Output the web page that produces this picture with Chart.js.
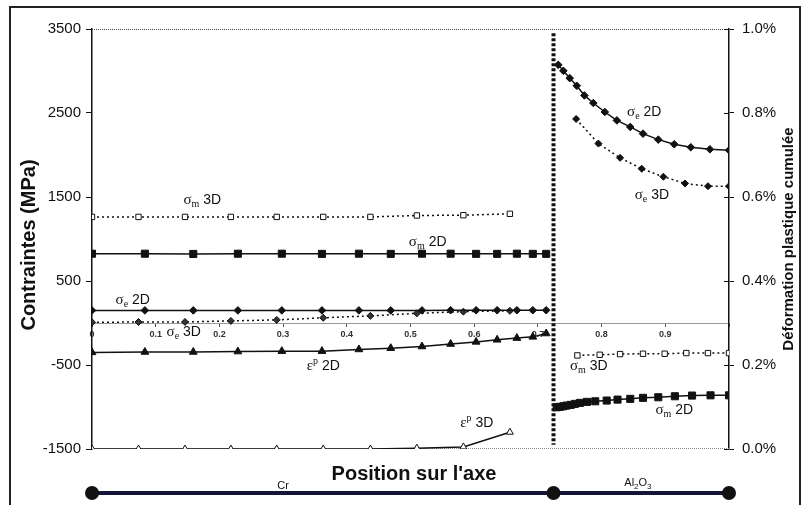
<!DOCTYPE html>
<html>
<head>
<meta charset="utf-8">
<script src="https://cdn.jsdelivr.net/npm/chart.js@4.4.1/dist/chart.umd.min.js"></script>
<style>
  html, body { margin: 0; padding: 0; background: #fff; }
  canvas { display: block; }
</style>
</head>
<body>
<canvas id="c" width="807" height="505"></canvas>
<script>
// ---------- Data ----------
// Cr side (x = normalised position along the axis)
const crX2D = [0, 0.083, 0.159, 0.229, 0.298, 0.361, 0.419, 0.469, 0.518, 0.563, 0.603, 0.636, 0.667, 0.692, 0.713];
const crX3D = [0, 0.073, 0.146, 0.218, 0.290, 0.363, 0.437, 0.510, 0.583, 0.656];

const sigmaM2D_Cr = [825, 825, 822, 825, 825, 823, 825, 823, 825, 825, 823, 823, 825, 823, 823];
const sigmaE2D_Cr = [150, 150, 150, 150, 150, 150, 150, 150, 150, 152, 152, 152, 152, 152, 152];
const sigmaM3D_Cr = [1263, 1263, 1263, 1263, 1263, 1263, 1263, 1280, 1283, 1300];
const sigmaE3D_Cr = [8, 12, 12, 25, 37, 62, 85, 115, 135, 145];
const epsP2D_Cr   = [0.230, 0.231, 0.231, 0.232, 0.233, 0.233, 0.237, 0.240, 0.244, 0.250, 0.255, 0.260, 0.264, 0.267, 0.275];
const epsP3D_Cr   = [0, 0, 0, 0, 0, 0, 0, 0.002, 0.005, 0.040];

// Al2O3 side
const alXsigE2D = [0.732, 0.740, 0.750, 0.761, 0.773, 0.787, 0.805, 0.824, 0.845, 0.865, 0.889, 0.914, 0.940, 0.970, 1.0];
const sigmaE2D_Al = [3073, 3002, 2915, 2824, 2709, 2619, 2512, 2412, 2334, 2254, 2183, 2128, 2092, 2068, 2056];
const alXsigE3D = [0.760, 0.795, 0.829, 0.863, 0.897, 0.931, 0.967, 1.0];
const sigmaE3D_Al = [2429, 2136, 1966, 1836, 1741, 1661, 1629, 1629];
const alXsigM3D = [0.762, 0.797, 0.829, 0.865, 0.899, 0.933, 0.967, 1.0];
const sigmaM3D_Al = [-386, -378, -370, -366, -366, -358, -358, -358];
const alXsigM2D = [0.7295, 0.7347, 0.740, 0.745, 0.7515, 0.758, 0.766, 0.777, 0.790, 0.808, 0.825, 0.845, 0.865, 0.889, 0.915, 0.942, 0.971, 1.0];
const sigmaM2D_Al = [-1003, -998, -991, -983, -975, -963, -951, -939, -932, -923, -912, -903, -891, -884, -872, -864, -861, -861];

// Interface Cr / Al2O3
const interfaceX = 0.7245;
const interfaceY = [3450, -1450];

// Axis ranges / ticks
const stressRange = [-1500, 3500];
const stressStep = 1000;
const strainRange = [0, 1.0];   // percent
const strainStep = 0.2;
const posRange = [0, 1];
const posStep = 0.1;

// Series labels: [x (position), y (MPa), symbol, script, isSuperscript, suffix]
const seriesLabels = [
  [0.173, 1476, 'σ', 'm', false, '3D'],
  [0.527, 976, 'σ', 'm', false, '2D'],
  [0.064, 286, 'σ', 'e', false, '2D'],
  [0.144, -95, 'σ', 'e', false, '3D'],
  [0.363, -500, 'ε', 'p', true, '2D'],
  [0.604, -1179, 'ε', 'p', true, '3D'],
  [0.867, 2524, 'σ', 'e', false, '2D'],
  [0.879, 1536, 'σ', 'e', false, '3D'],
  [0.780, -500, 'σ', 'm', false, '3D'],
  [0.914, -1024, 'σ', 'm', false, '2D']
];

// Material bar: [start, end] positions and labels
const materialBounds = [0, interfaceX, 1];
const materialLabels = ['Cr', 'Al2O3'];

// ---------- helpers ----------
const SANS = '"Liberation Sans", Arial, sans-serif';
const SERIF = '"Liberation Serif", "Times New Roman", serif';
const pts = (xs, ys) => xs.map((x, i) => ({ x: x, y: ys[i] }));

function series(xs, ys, opts) {
  return Object.assign({
    data: pts(xs, ys),
    showLine: true,
    borderColor: '#111',
    backgroundColor: '#111',
    pointBorderColor: '#111',
    pointBackgroundColor: '#111',
    borderWidth: 1.5,
    pointBorderWidth: 1,
    fill: false,
    tension: 0,
    yAxisID: 'y'
  }, opts);
}

const datasets = [
  series(crX3D, sigmaM3D_Cr, { borderDash: [2, 3], pointStyle: 'rect', pointRadius: 3.8, pointBackgroundColor: '#fff' }),
  series(alXsigM3D, sigmaM3D_Al, { borderDash: [2, 3], pointStyle: 'rect', pointRadius: 3.8, pointBackgroundColor: '#fff' }),
  series(crX2D, sigmaM2D_Cr, { pointStyle: 'rect', pointRadius: 5 }),
  series(alXsigM2D, sigmaM2D_Al, { pointStyle: 'rect', pointRadius: 5 }),
  series(crX2D, sigmaE2D_Cr, { pointStyle: 'rectRot', pointRadius: 3.8 }),
  series(alXsigE2D, sigmaE2D_Al, { pointStyle: 'rectRot', pointRadius: 3.8 }),
  series(crX3D, sigmaE3D_Cr, { borderDash: [2, 3], pointStyle: 'rectRot', pointRadius: 3.5, pointBackgroundColor: '#333' }),
  series(alXsigE3D, sigmaE3D_Al, { borderDash: [2, 3], pointStyle: 'rectRot', pointRadius: 3.5 }),
  series(crX2D, epsP2D_Cr, { pointStyle: 'triangle', pointRadius: 4.5, yAxisID: 'y1' }),
  series(crX3D, epsP3D_Cr, { pointStyle: 'triangle', pointRadius: 4, pointBackgroundColor: '#fff', yAxisID: 'y1' }),
  series([interfaceX, interfaceX], interfaceY, { borderDash: [3, 2], borderWidth: 4, pointRadius: 0 })
];

function drawRichLabel(ctx, cx, cy, sym, script, sup, suffix) {
  const f1 = '15px ' + SERIF, f2 = '10px ' + SERIF, f3 = '14px ' + SANS;
  ctx.font = f1; const w1 = ctx.measureText(sym).width;
  ctx.font = f2; const w2 = ctx.measureText(script).width;
  ctx.font = f3; const w3 = ctx.measureText(' ' + suffix).width;
  let x = cx - (w1 + w2 + w3) / 2;
  ctx.fillStyle = '#111';
  ctx.textBaseline = 'alphabetic';
  ctx.textAlign = 'left';
  const base = cy + 5;
  ctx.font = f1; ctx.fillText(sym, x, base); x += w1;
  ctx.font = f2; ctx.fillText(script, x, sup ? base - 6 : base + 3); x += w2;
  ctx.font = f3; ctx.fillText(' ' + suffix, x, base);
}

const decor = {
  id: 'decor',
  beforeDraw(chart) {
    const ctx = chart.ctx;
    ctx.save();
    ctx.fillStyle = '#fff';
    ctx.fillRect(0, 0, chart.width, chart.height);
    ctx.strokeStyle = '#222';
    ctx.lineWidth = 2;
    ctx.strokeRect(10, 7, 790, 510);
    ctx.restore();
  },
  beforeDatasetsDraw(chart) {
    const ctx = chart.ctx, a = chart.chartArea;
    ctx.save();
    ctx.lineWidth = 1;
    ctx.setLineDash([1, 1]);
    ctx.strokeStyle = '#444';
    ctx.beginPath(); ctx.moveTo(a.left, a.top + 0.5); ctx.lineTo(a.right, a.top + 0.5); ctx.stroke();
    ctx.strokeStyle = '#888';
    ctx.beginPath(); ctx.moveTo(a.left, a.bottom - 0.5); ctx.lineTo(a.right, a.bottom - 0.5); ctx.stroke();
    ctx.restore();
  },
  afterDraw(chart) {
    const ctx = chart.ctx, a = chart.chartArea;
    const sx = chart.scales.x, sy = chart.scales.y, sy1 = chart.scales.y1;
    ctx.save();
    // inner half of right-axis ticks
    ctx.strokeStyle = '#111'; ctx.lineWidth = 1;
    sy1.ticks.forEach(t => {
      const py = Math.round(sy1.getPixelForValue(t.value)) + 0.5;
      ctx.beginPath(); ctx.moveTo(a.right - 5, py); ctx.lineTo(a.right, py); ctx.stroke();
    });
    // series labels
    seriesLabels.forEach(l => {
      drawRichLabel(ctx, sx.getPixelForValue(l[0]), sy.getPixelForValue(l[1]), l[2], l[3], l[4], l[5]);
    });
    // axis titles
    ctx.fillStyle = '#111';
    ctx.textAlign = 'center'; ctx.textBaseline = 'middle';
    ctx.save();
    ctx.translate(29, (a.top + a.bottom) / 2 + 6);
    ctx.rotate(-Math.PI / 2);
    ctx.font = 'bold 20px ' + SANS;
    ctx.fillText('Contraintes (MPa)', 0, 0);
    ctx.restore();
    ctx.save();
    ctx.translate(789, (a.top + a.bottom) / 2);
    ctx.rotate(-Math.PI / 2);
    ctx.font = 'bold 15px ' + SANS;
    ctx.fillText('Déformation plastique cumulée', 0, 0);
    ctx.restore();
    ctx.font = 'bold 20px ' + SANS;
    ctx.fillText("Position sur l'axe", 414, 474);
    // material bar
    const by = 493;
    const bx = materialBounds.map(v => sx.getPixelForValue(v));
    ctx.strokeStyle = '#15153a'; ctx.lineWidth = 4;
    ctx.beginPath(); ctx.moveTo(bx[0], by); ctx.lineTo(bx[2], by); ctx.stroke();
    ctx.fillStyle = '#111';
    bx.forEach(px => { ctx.beginPath(); ctx.arc(px, by, 7, 0, Math.PI * 2); ctx.fill(); });
    // material labels
    ctx.fillStyle = '#111';
    ctx.font = '11px ' + SANS; ctx.textAlign = 'center'; ctx.textBaseline = 'alphabetic';
    ctx.fillText(materialLabels[0], sx.getPixelForValue(0.30), 489);
    // Al2O3 with subscripts
    const parts = [['Al', false], ['2', true], ['O', false], ['3', true]];
    let tw = 0;
    parts.forEach(p => { ctx.font = (p[1] ? '8px ' : '11px ') + SANS; tw += ctx.measureText(p[0]).width; });
    let x = sx.getPixelForValue(0.857) - tw / 2;
    ctx.textAlign = 'left';
    parts.forEach(p => {
      ctx.font = (p[1] ? '8px ' : '11px ') + SANS;
      ctx.fillText(p[0], x, p[1] ? 489 : 486);
      x += ctx.measureText(p[0]).width;
    });
    ctx.restore();
  }
};

new Chart(document.getElementById('c'), {
  type: 'scatter',
  data: { datasets: datasets },
  options: {
    responsive: false,
    animation: false,
    events: [],
    layout: { padding: { left: 0, right: 0, top: 29, bottom: 56 } },
    plugins: { legend: { display: false }, tooltip: { enabled: false } },
    scales: {
      x: {
        type: 'linear', min: posRange[0], max: posRange[1],
        position: { y: 0 },
        ticks: {
          stepSize: posStep, autoSkip: false, maxRotation: 0, padding: 3,
          color: '#333', font: { family: SANS, size: 9, weight: 'bold' },
          callback: v => (v > 0.999 ? '' : (v === 0 ? '0' : v.toFixed(1)))
        },
        grid: { drawOnChartArea: false, tickLength: 3, color: '#555' },
        border: { display: true, color: '#999', width: 1 }
      },
      y: {
        type: 'linear', position: 'left', min: stressRange[0], max: stressRange[1],
        ticks: { stepSize: stressStep, padding: 5, color: '#111', font: { family: SANS, size: 15 },
          callback: v => String(v) },
        grid: { drawOnChartArea: false, tickLength: 6, color: '#111' },
        border: { display: true, color: '#111', width: 1.5 },
        afterFit: s => { s.width = 92; }
      },
      y1: {
        type: 'linear', position: 'right', min: strainRange[0], max: strainRange[1],
        ticks: { stepSize: strainStep, padding: 8, color: '#111', font: { family: SANS, size: 15 },
          callback: v => v.toFixed(1) + '%' },
        grid: { drawOnChartArea: false, tickLength: 5, color: '#111' },
        border: { display: true, color: '#111', width: 1.5 },
        afterFit: s => { s.width = 78; }
      }
    }
  },
  plugins: [decor]
});
</script>
</body>
</html>
